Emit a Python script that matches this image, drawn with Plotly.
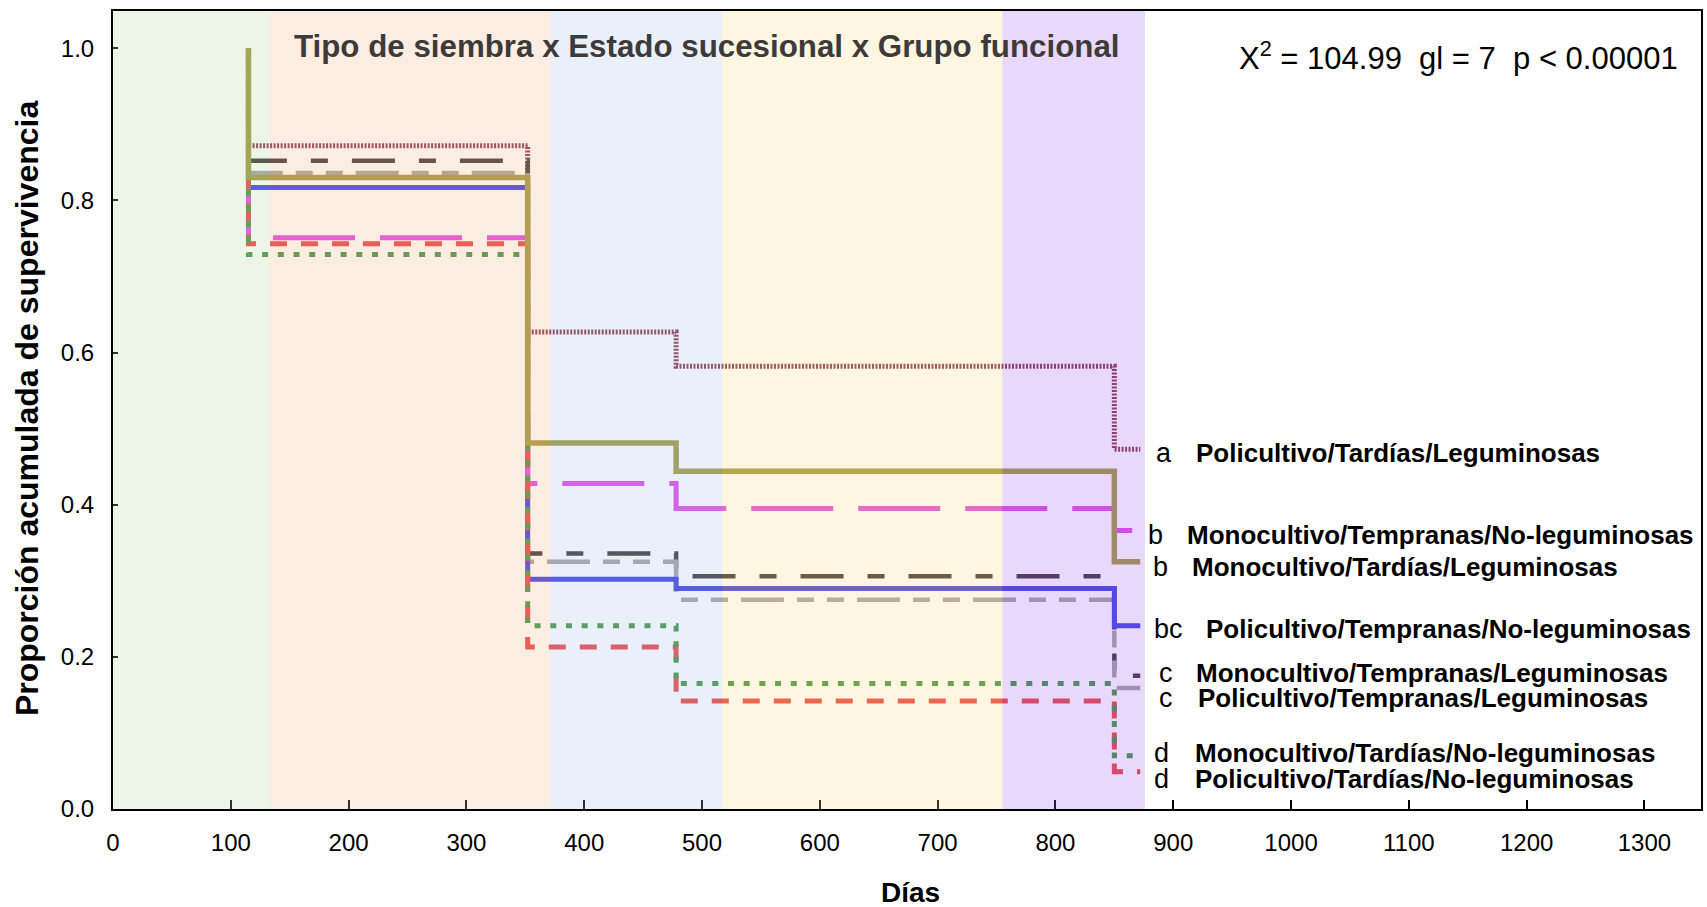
import plotly.graph_objects as go

# ---------------- data ----------------
event_days = [115, 352, 478, 850]
end_day = 872

labels_letter = ["a", "b", "b", "bc", "c", "c", "d", "d"]
labels_name = [
    "Policultivo/Tardías/Leguminosas",
    "Monocultivo/Tempranas/No-leguminosas",
    "Monocultivo/Tardías/Leguminosas",
    "Policultivo/Tempranas/No-leguminosas",
    "Monocultivo/Tempranas/Leguminosas",
    "Policultivo/Tempranas/Leguminosas",
    "Monocultivo/Tardías/No-leguminosas",
    "Policultivo/Tardías/No-leguminosas",
]

surv_pol_tar_leg = [0.872, 0.627, 0.582, 0.473]
surv_mon_tem_noleg = [0.751, 0.428, 0.395, 0.366]
surv_mon_tar_leg = [0.830, 0.481, 0.444, 0.325]
surv_pol_tem_noleg = [0.817, 0.302, 0.290, 0.241]
surv_mon_tem_leg = [0.852, 0.336, 0.306, 0.175]
surv_pol_tem_leg = [0.836, 0.325, 0.275, 0.159]
surv_mon_tar_noleg = [0.729, 0.241, 0.165, 0.070]
surv_pol_tar_noleg = [0.743, 0.213, 0.142, 0.049]

band_edges = [0, 133, 371, 517, 755, 876]

x_ticks = list(range(0, 1301, 100))
y_ticks = [0.0, 0.2, 0.4, 0.6, 0.8, 1.0]

# ---------------- styles ----------------
series = [
    # (values, color, width, dash, label index)
    (surv_pol_tar_leg, "#8A3248", 5, "2px,1.5px", 0),
    (surv_mon_tem_leg, "#3A3230", 4.5, "43px,24px,17px,24px", 4),
    (surv_pol_tem_leg, "#A0A0A0", 4.5, "43px,13px,17px,13px,17px,13px", 5),
    (surv_pol_tem_noleg, "#3B3BE0", 5, "solid", 3),
    (surv_mon_tem_noleg, "#E243E6", 5, "82px,25px", 1),
    (surv_pol_tar_noleg, "#E8403F", 5, "17px,14px", 7),
    (surv_mon_tar_noleg, "#3F913F", 5, "6px,9.7px", 6),
    (surv_mon_tar_leg, "#9E963F", 5.5, "solid", 2),
]

band_colors = [
    "rgba(180,215,160,0.25)",
    "rgba(245,185,145,0.25)",
    "rgba(170,195,235,0.25)",
    "rgba(250,220,130,0.25)",
    "rgba(163,103,245,0.25)",
]

fig = go.Figure()

for vals, color, width, dash, li in series:
    xs = [event_days[0]] + event_days + [end_day]
    ys = [1.0] + vals + [vals[-1]]
    fig.add_trace(go.Scatter(
        x=xs, y=ys, mode="lines", line_shape="hv",
        line=dict(color=color, width=width, dash=dash),
        name=labels_name[li], showlegend=False, hoverinfo="skip",
    ))

shapes = []
for i, c in enumerate(band_colors):
    shapes.append(dict(type="rect", xref="x", yref="paper",
                       x0=band_edges[i], x1=band_edges[i + 1], y0=0, y1=1,
                       fillcolor=c, line=dict(width=0), layer="above"))

REG = "Liberation Sans, Arial, sans-serif"

letter_x = [892, 885, 889, 896, 894, 894, 890, 890]
name_x = [918, 910, 914, 926, 918, 919, 917, 917]
label_y = [0.468, 0.360, 0.318, 0.236, 0.179, 0.146, 0.073, 0.040]

annotations = []
for i in range(len(labels_name)):
    annotations.append(dict(x=letter_x[i], y=label_y[i], xref="x", yref="y",
                            text=labels_letter[i], showarrow=False,
                            xanchor="center", yanchor="middle",
                            font=dict(family=REG, size=27, color="black")))
    annotations.append(dict(x=name_x[i], y=label_y[i], xref="x", yref="y",
                            text="<b>" + labels_name[i] + "</b>", showarrow=False,
                            xanchor="left", yanchor="middle",
                            font=dict(family=REG, size=26, color="black")))

annotations.append(dict(x=0.374, y=0.956, xref="paper", yref="paper",
                        text="<b>Tipo de siembra x Estado sucesional x Grupo funcional</b>",
                        showarrow=False, xanchor="center", yanchor="middle",
                        font=dict(family=REG, size=31.3, color="#3E3A3A")))
annotations.append(dict(x=0.847, y=0.9436, xref="paper", yref="paper",
                        text="X<sup>2</sup> = 104.99\u00a0 gl = 7\u00a0 p &lt; 0.00001",
                        showarrow=False, xanchor="center", yanchor="middle",
                        font=dict(family=REG, size=31, color="black")))
annotations.append(dict(x=0.5025, y=-0.105, xref="paper", yref="paper",
                        text="<b>Días</b>", showarrow=False,
                        xanchor="center", yanchor="middle",
                        font=dict(family=REG, size=28, color="black")))
annotations.append(dict(x=-0.0541, y=0.5025, xref="paper", yref="paper",
                        text="<b>Proporción acumulada de supervivencia</b>", showarrow=False,
                        textangle=-90, xanchor="center", yanchor="middle",
                        font=dict(family=REG, size=32, color="black")))

fig.update_layout(
    width=1707, height=907,
    margin=dict(l=113, r=4, t=11, b=98, pad=0),
    paper_bgcolor="white", plot_bgcolor="white",
    shapes=shapes, annotations=annotations,
    showlegend=False,
)
fig.update_xaxes(range=[0, 1348], tickvals=x_ticks, ticktext=[str(v) for v in x_ticks],
                 ticks="inside", ticklen=9, tickwidth=2, tickcolor="black",
                 showline=True, linecolor="black", linewidth=2, mirror=True,
                 showgrid=False, zeroline=False, ticklabelstandoff=11,
                 tickfont=dict(family=REG, size=24, color="black"))
fig.update_yaxes(range=[0, 1.049], tickvals=y_ticks, ticktext=[f"{v:.1f}" for v in y_ticks],
                 ticks="inside", ticklen=5, tickwidth=2, tickcolor="black",
                 showline=True, linecolor="black", linewidth=2, mirror=True,
                 showgrid=False, zeroline=False, ticklabelstandoff=12,
                 tickfont=dict(family=REG, size=24, color="black"))

fig.write_html("out.html")
